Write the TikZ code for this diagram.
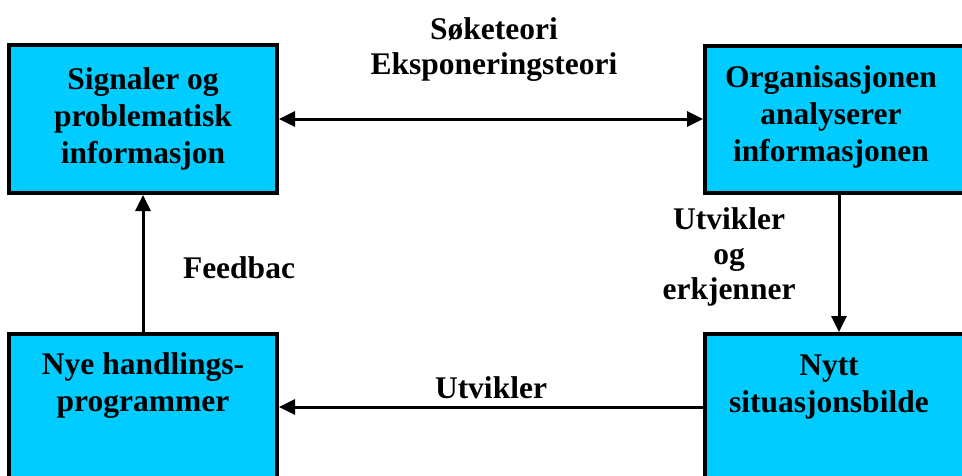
\documentclass[tikz,border=0pt]{standalone}
\usepackage{fontspec}
\setmainfont{Liberation Serif}
\usetikzlibrary{arrows.meta}
\definecolor{boxcyan}{RGB}{0,204,255}
\tikzset{
  stagebox/.style={draw=black, line width=4pt, fill=boxcyan, rectangle, inner sep=0pt},
  stagetext/.style={align=center, inner sep=0pt, font=\bfseries\fontsize{31.5}{37}\selectfont},
  flowlabel/.style={align=center, inner sep=0pt, font=\bfseries\fontsize{31.5}{35}\selectfont},
  flow/.style={line width=3pt, -{Triangle[length=16pt,width=15pt]}},
  twoway/.style={line width=3pt, {Triangle[length=16pt,width=15pt]}-{Triangle[length=16pt,width=15pt]}}
}
\begin{document}
\begin{tikzpicture}[x=1pt, y=-1pt]
\useasboundingbox (0,0) rectangle (962,475);
\clip (0,0) rectangle (962,475);
\fill[white] (0,0) rectangle (962,475);

% the four stages
\node[stagebox, minimum width=268pt, minimum height=148pt] (sig) at (143,119) {};
\node[stagebox, minimum width=270pt, minimum height=147pt] (org) at (840,119) {};
\node[stagebox, minimum width=268pt, minimum height=180pt] (nye) at (143,424) {};
\node[stagebox, minimum width=270pt, minimum height=180pt] (nytt) at (840,424) {};

\node[stagetext] (sigtxt) at (143,119) {Signaler og\\problematisk\\informasjon};
\node[stagetext] (orgtxt) at (831,117) {Organisasjonen\\analyserer\\informasjonen};
\node[stagetext] (nyetxt) at (143,386) {Nye handlings-\\programmer};
\node[stagetext] (nyttxt) at (829,387) {Nytt\\situasjonsbilde};

% connectors between the stages
\draw[twoway] (sig.east |- 0,119) -- (org.west |- 0,119);
\draw[flow] (org.south -| 839,0) -- (nytt.north -| 839,0);
\draw[flow] (nytt.west |- 0,407) -- (nye.east |- 0,407);
\draw[flow] (nye.north) -- (sig.south);

% labels on the connectors
\node[flowlabel] (teori) at (494,50) {Søketeori\\Eksponeringsteori};
\node[flowlabel] (erkj) at (729,257) {Utvikler\\og\\erkjenner};
\node[flowlabel, anchor=base] (utv) at (491,398) {Utvikler};
\node[flowlabel, anchor=base] (feed) at (239,278) {Feedbac};
\end{tikzpicture}
\end{document}
